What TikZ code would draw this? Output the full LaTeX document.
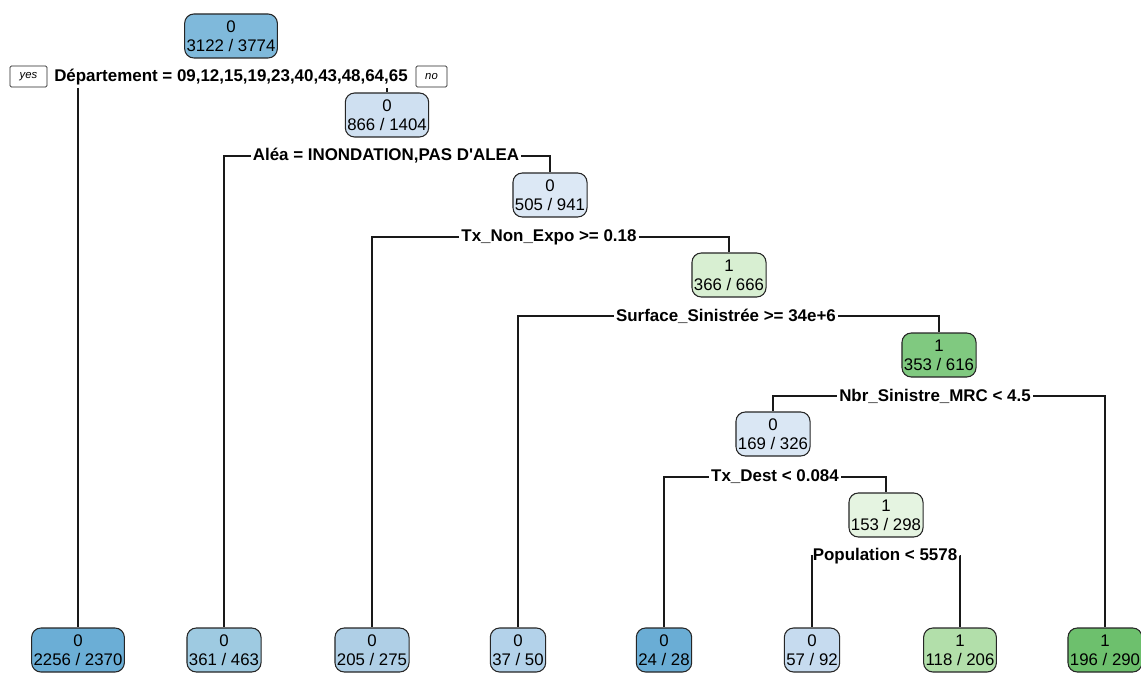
\documentclass[tikz,border=0pt]{standalone}
\usepackage{fontspec}
\setmainfont{Liberation Sans}
\definecolor{cRoot}{HTML}{7FB9DB}
\definecolor{cN2}{HTML}{CFE0F1}
\definecolor{cN3}{HTML}{DCE8F5}
\definecolor{cN4}{HTML}{D8EFD2}
\definecolor{cN5}{HTML}{80C980}
\definecolor{cN6}{HTML}{DAE7F4}
\definecolor{cN7}{HTML}{E5F4E1}
\definecolor{cL1}{HTML}{6BAED6}
\definecolor{cL2}{HTML}{9ECAE1}
\definecolor{cL3}{HTML}{AFCFE6}
\definecolor{cL4}{HTML}{B3D2EA}
\definecolor{cL5}{HTML}{6AADD5}
\definecolor{cL6}{HTML}{C6DBEF}
\definecolor{cL7}{HTML}{B2DFAA}
\definecolor{cL8}{HTML}{6DC06D}
\tikzset{
  tn/.style={draw=black!85, line width=0.8pt, rounded corners=7pt, inner xsep=1.5pt, inner ysep=0pt,
    minimum height=33pt, align=center, font=\fontsize{12.6}{14.25}\selectfont},
  sl/.style={font=\bfseries\fontsize{12.7}{14}\selectfont, inner xsep=1.5pt, inner ysep=2pt},
  yn/.style={draw=black!85, line width=0.6pt, rounded corners=1pt, inner sep=0pt, minimum height=15.75pt,
    font=\itshape\fontsize{8.5}{9}\selectfont},
  br/.style={line width=0.9pt, draw=black!90}
}
\begin{document}
\begin{tikzpicture}[x=0.75pt,y=-0.75pt]
\path[use as bounding box, fill=white] (0,0) rectangle (1141,673);
% internal nodes
\node[tn, fill=cRoot] (n1) at (231,36) {0\\3122 / 3774};
\node[tn, fill=cN2] (n2) at (387,115) {0\\866 / 1404};
\node[tn, fill=cN3] (n3) at (550,195) {0\\505 / 941};
\node[tn, fill=cN4] (n4) at (729,275) {1\\366 / 666};
\node[tn, fill=cN5] (n5) at (939,355) {1\\353 / 616};
\node[tn, fill=cN6] (n6) at (773,434) {0\\169 / 326};
\node[tn, fill=cN7] (n7) at (886,515) {1\\153 / 298};
% leaves
\node[tn, fill=cL1] (l1) at (78,650) {0\\2256 / 2370};
\node[tn, fill=cL2] (l2) at (224,650) {0\\361 / 463};
\node[tn, fill=cL3] (l3) at (372,650) {0\\205 / 275};
\node[tn, fill=cL4] (l4) at (518,650) {0\\37 / 50};
\node[tn, fill=cL5] (l5) at (664,650) {0\\24 / 28};
\node[tn, fill=cL6] (l6) at (812,650) {0\\57 / 92};
\node[tn, fill=cL7] (l7) at (960,650) {1\\118 / 206};
\node[tn, fill=cL8] (l8) at (1105,650) {1\\196 / 290};
% split labels
\node[sl] (s1) at (231,77) {Département = 09,12,15,19,23,40,43,48,64,65};
\node[yn, minimum width=27.75pt] (yes) at (28.5,76.5) {yes};
\node[yn, minimum width=23.25pt] (no) at (431.5,76.5) {no};
\node[sl] (s2) at (386,156) {Aléa = INONDATION,PAS D\textquotesingle ALEA};
\node[sl] (s3) at (549,237) {Tx\_Non\_Expo >= 0.18};
\node[sl] (s4) at (726,316) {Surface\_Sinistrée >= 34e+6};
\node[sl] (s5) at (935,396) {Nbr\_Sinistre\_MRC < 4.5};
\node[sl] (s6) at (775,477) {Tx\_Dest < 0.084};
\node[sl] (s7) at (885,556) {Population < 5578};
% branches
\draw[br] (l1.north |- s1.south) -- (l1.north);
\draw[br] (n2.north |- s1.south) -- (n2.north);
\draw[br] (s2.west) -| (l2.north);
\draw[br] (s2.east) -| (n3.north);
\draw[br] (s3.west) -| (l3.north);
\draw[br] (s3.east) -| (n4.north);
\draw[br] (s4.west) -| (l4.north);
\draw[br] (s4.east) -| (n5.north);
\draw[br] (s5.west) -| (n6.north);
\draw[br] (s5.east) -| (l8.north);
\draw[br] (s6.west) -| (l5.north);
\draw[br] (s6.east) -| (n7.north);
\draw[br] (s7.west) -| (l6.north);
\draw[br] (s7.east) -| (l7.north);
\end{tikzpicture}
\end{document}
